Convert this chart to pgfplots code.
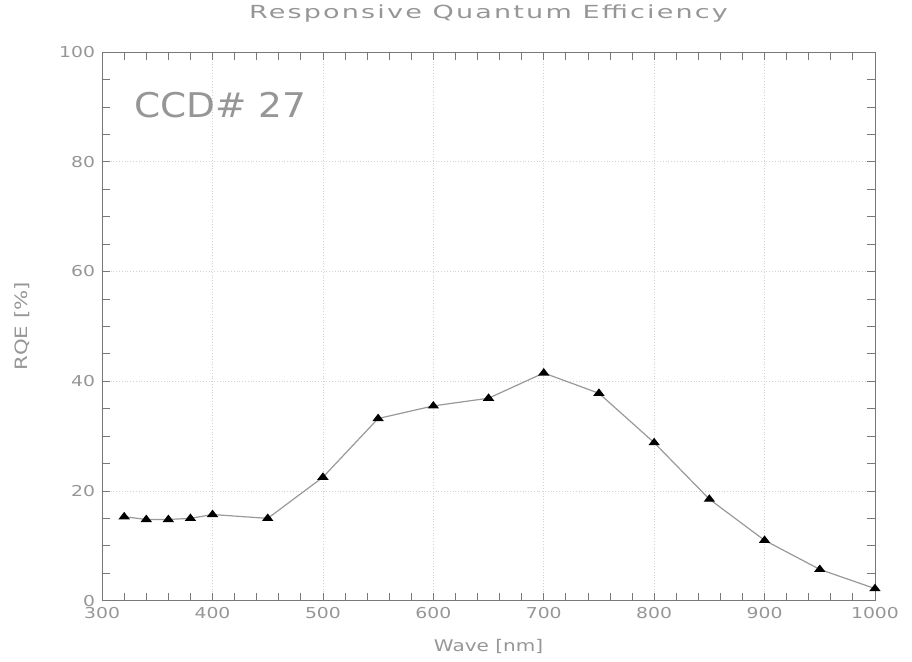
\documentclass[border=0pt]{standalone}
\usepackage{fontspec}
\setmainfont{DejaVu Sans}[FakeStretch=1.25]
\newfontfamily\titlefont{DejaVu Sans}[FakeStretch=1.5, LetterSpace=12]
\newfontfamily\ccdfont{DejaVu Sans}[FakeStretch=1.1]
\usepackage{pgfplots}
\pgfplotsset{compat=1.18}
\usetikzlibrary{calc}
\definecolor{txtgray}{RGB}{150,150,150}
\definecolor{axgray}{RGB}{120,120,120}
\begin{document}
\begin{tikzpicture}
\begin{axis}[
    scale only axis,
    width=386pt, height=274pt,
    xmin=300, xmax=1000,
    ymin=0, ymax=100,
    xtick={300,400,...,1000},
    ytick={0,20,...,100},
    minor x tick num=4,
    minor y tick num=3,
    tick align=inside,
    major tick length=4pt,
    minor tick length=4pt,
    tick style={axgray, thin},
    axis line style={axgray, thin},
    grid=major,
    grid style={densely dotted, gray!35},
    xlabel={Wave [nm]},
    ylabel={RQE [\%]},
    xlabel style={font=\fontsize{8}{10}\selectfont, text=txtgray,
        at={(axis description cs:0.5,-0.084)}, anchor=center},
    ylabel style={font=\fontsize{8.5}{10}\selectfont, text=txtgray,
        at={(axis description cs:-0.1036,0.5)}, anchor=center},
    tick label style={font=\fontsize{7.5}{9}\selectfont, text=txtgray},
    /pgf/number format/assume math mode=true,
    /pgf/number format/1000 sep={},
]
\addplot[gray!80, semithick, mark=triangle*, mark size=2.6pt,
    mark options={black, fill=black, yscale=0.75}] coordinates {
    (320,15.3) (340,14.8) (360,14.8) (380,15.0) (400,15.7) (450,15.0)
    (500,22.5) (550,33.2) (600,35.5) (650,36.9) (700,41.5) (750,37.8)
    (800,28.8) (850,18.5) (900,11.0) (950,5.7) (1000,2.2)
};
\node[anchor=west, text=txtgray, font=\ccdfont\fontsize{17}{20}\selectfont]
    at (axis cs:323,90.3) {CCD\# 27};
\coordinate (ll) at (rel axis cs:0,0);
\coordinate (ur) at (rel axis cs:1,1);
\end{axis}
% title
\node[text=txtgray, font=\titlefont\fontsize{9}{11}\selectfont, anchor=center]
    at ($(ur)+(-193pt,19pt)$) {Responsive Quantum Efficiency};
\pgfresetboundingbox
\useasboundingbox ($(ll)+(-51pt,-30.5pt)$) rectangle ($(ur)+(18.5pt,26pt)$);
\end{tikzpicture}
\end{document}
